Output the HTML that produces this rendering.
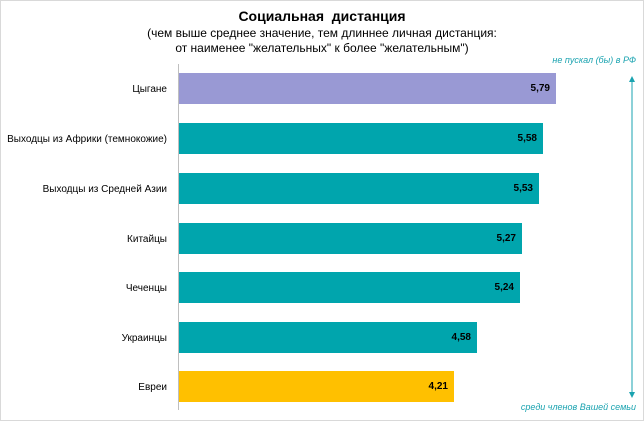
<!DOCTYPE html>
<html><head><meta charset="utf-8"><style>
body{margin:0;background:#fff;}
.w{position:relative;width:642px;height:419px;border:1px solid #d9d9d9;overflow:hidden;font-family:"Liberation Sans",sans-serif;background:#fff}
.t{position:absolute;left:0;width:642px;text-align:center;color:#000}
.bar{position:absolute;left:178px;height:31px}
.v{position:absolute;right:6px;top:0;line-height:31px;font-size:10px;font-weight:bold;color:#000}
.l{position:absolute;right:476px;font-size:10px;color:#000;text-align:right;white-space:nowrap}
.n{position:absolute;font-size:9px;font-style:italic;color:#1aa3b0;white-space:nowrap}
</style></head><body><div class="w">
<div class="t" style="top:7px;font-size:14px;font-weight:bold">Социальная&nbsp; дистанция</div>
<div class="t" style="top:25px;font-size:12px">(чем выше среднее значение, тем длиннее личная дистанция:</div>
<div class="t" style="top:40px;font-size:12px">от наименее "желательных" к более "желательным")</div>
<div style="position:absolute;left:177px;top:63px;width:1px;height:346px;background:#bfbfbf"></div>
<div class="bar" style="top:72px;width:377px;background:#9999d4"><span class="v">5,79</span></div>
<div class="bar" style="top:122px;width:364px;background:#00a5ad"><span class="v">5,58</span></div>
<div class="bar" style="top:172px;width:360px;background:#00a5ad"><span class="v">5,53</span></div>
<div class="bar" style="top:222px;width:343px;background:#00a5ad"><span class="v">5,27</span></div>
<div class="bar" style="top:271px;width:341px;background:#00a5ad"><span class="v">5,24</span></div>
<div class="bar" style="top:321px;width:298px;background:#00a5ad"><span class="v">4,58</span></div>
<div class="bar" style="top:370px;width:275px;background:#ffc000"><span class="v">4,21</span></div>
<div class="l" style="top:83px">Цыгане</div>
<div class="l" style="top:133px">Выходцы из Африки (темнокожие)</div>
<div class="l" style="top:183px">Выходцы из Средней Азии</div>
<div class="l" style="top:233px">Китайцы</div>
<div class="l" style="top:282px">Чеченцы</div>
<div class="l" style="top:332px">Украинцы</div>
<div class="l" style="top:381px">Евреи</div>
<div class="n" style="right:7px;top:54px">не пускал (бы) в РФ</div>
<div class="n" style="right:7px;top:401px">среди членов Вашей семьи</div>
<svg style="position:absolute;left:0;top:0" width="642" height="419">
<line x1="631" y1="80" x2="631" y2="392" stroke="#1aa3b0" stroke-width="1"/>
<polygon points="628,81 634,81 631,75" fill="#1aa3b0"/>
<polygon points="628,391 634,391 631,397" fill="#1aa3b0"/>
</svg>
</div></body></html>
